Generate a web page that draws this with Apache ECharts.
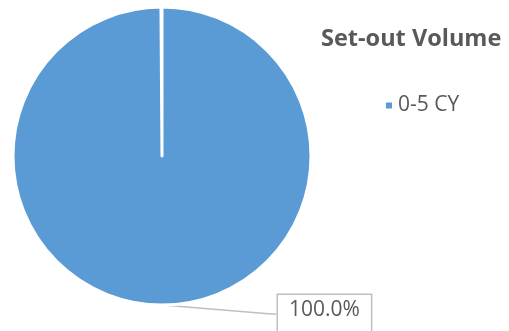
<!DOCTYPE html>
<html><head><meta charset="utf-8">
<script src="https://cdn.jsdelivr.net/npm/echarts@6/dist/echarts.min.js"></script>
<style>html,body{margin:0;padding:0;background:#fff}#c{width:509px;height:331px}</style>
</head><body><div id="c"></div>
<script>
const titleText = 'Set-out Volume';
const categories = ['0-5 CY'];
const values = [100];
const colors = ['#5b9bd5'];

const chart = echarts.init(document.getElementById('c'), null, {renderer: 'canvas'});
chart.setOption({
  animation: false,
  backgroundColor: '#ffffff',
  title: {
    text: titleText, left: 316, top: 22,
    textStyle: {fontFamily: 'Open Sans', fontWeight: 'bold', fontSize: 23.5, color: '#595959'}
  },
  legend: {
    left: 379, top: 90, orient: 'vertical',
    icon: 'rect', itemWidth: 8, itemHeight: 8, itemGap: 6,
    data: categories,
    textStyle: {fontFamily: 'Open Sans', fontSize: 21, color: '#595959', padding: [0,0,0,0]}
  },
  series: [{
    type: 'pie',
    center: [162, 156],
    radius: [0, 149],
    startAngle: 90,
    endAngle: 90 - 359.6,
    clockwise: true,
    data: categories.map((c, i) => ({name: c, value: values[i], itemStyle: {color: colors[i]}})),
    itemStyle: {borderColor: '#ffffff', borderWidth: 3},
    label: {
      show: true,
      formatter: p => p.percent.toFixed(1) + '%',
      fontFamily: 'Open Sans', fontSize: 21, color: '#595959',
      backgroundColor: '#ffffff', borderColor: '#bfbfbf', borderWidth: 1.5,
      padding: [5, 11, 12, 11]
    },
    labelLine: {show: true, lineStyle: {color: '#bfbfbf', width: 1.5}, length: 5, length2: 5},
    labelLayout: {x: 278, y: 295, align: 'left', verticalAlign: 'top'}
  }]
});
</script></body></html>
